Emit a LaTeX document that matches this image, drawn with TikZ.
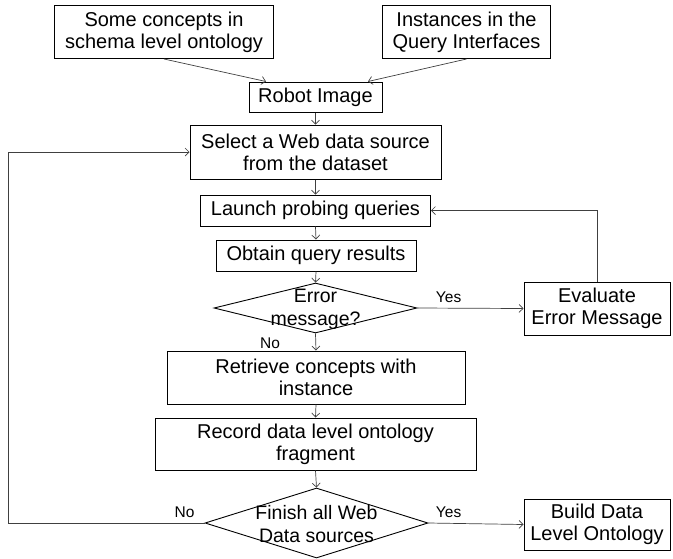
\documentclass[tikz,border=0pt]{standalone}
\usepackage{fontspec}
\setmainfont{Liberation Sans}
\usetikzlibrary{arrows.meta,shapes.geometric}
\begin{document}
\begin{tikzpicture}[x=1pt,y=-1pt,
  box/.style={draw=black,line width=1pt,inner sep=0pt,align=center,font=\fontsize{20}{22}\selectfont},
  dia/.style={draw=black,line width=0.9pt,shape=diamond,inner sep=0pt},
  dtext/.style={align=center,inner sep=0pt,font=\fontsize{19.5}{23}\selectfont},
  lab/.style={inner sep=0pt,font=\fontsize{15.5}{17}\selectfont},
  arr/.style={draw=black!75,line width=0.7pt,-{Straight Barb[length=4pt,width=8pt]}}]
\useasboundingbox (0,0) rectangle (673,558);
\node[box,minimum width=219pt,minimum height=53pt] (box1) at (164,32) {Some concepts in\\schema level ontology};
\node[box,minimum width=168pt,minimum height=53pt] (box2) at (466.5,32) {Instances in the\\Query Interfaces};
\node[box,minimum width=133pt,minimum height=30pt] (robot) at (315.5,97) {Robot Image};
\node[box,minimum width=251pt,minimum height=54pt] (select) at (315.5,152) {Select a Web data source\\from the dataset};
\node[box,minimum width=230pt,minimum height=31pt] (launch) at (315.5,210.5) {Launch probing queries};
\node[box,minimum width=200pt,minimum height=31pt] (obtain) at (316,255.5) {Obtain query results};
\node[dia,minimum width=203pt,minimum height=50pt] (d1) at (315.5,308) {};
\node[dtext] (d1t) at (315.5,309) {Error\\message?};
\node[box,minimum width=146pt,minimum height=53pt] (eval) at (597,308.5) {Evaluate\\Error Message};
\node[box,minimum width=298pt,minimum height=53pt] (retr) at (316,377.5) {Retrieve concepts with\\instance};
\node[box,minimum width=321pt,minimum height=52pt] (rec) at (315.5,444) {Record data level ontology\\fragment};
\node[dia,minimum width=223pt,minimum height=70pt] (d2) at (316.5,523) {};
\node[dtext] (d2t) at (316.5,524) {Finish all Web\\Data sources};
\node[box,minimum width=146pt,minimum height=51pt] (build) at (597,524.5) {Build Data\\Level Ontology};
\coordinate (loopc) at (8,152);
\draw[arr] (box1.south) -- ([xshift=-49.5pt]robot.north);
\draw[arr] (box2.south) -- ([xshift=52.5pt]robot.north);
\draw[arr] (robot.south) -- (select.north);
\draw[arr] (select.south) -- (launch.north);
\draw[arr] (launch.south) -- (obtain.north);
\draw[arr] (obtain.south) -- (d1.north);
\draw[arr] (d1.east) -- (eval.west);
\node[lab] (yes1) at (448.6,297) {Yes};
\draw[arr] (eval.north) |- (launch.east);
\draw[arr] (d1.south) -- (retr.north);
\node[lab] (no1) at (270,343) {No};
\draw[arr] (retr.south) -- (rec.north);
\draw[arr] (rec.south) -- (d2.north);
\draw[arr] (d2.east) -- (build.west);
\node[lab] (yes2) at (448.6,512) {Yes};
\draw[arr] (d2.west) -| (loopc) -- (select.west);
\node[lab] (no2) at (184.6,512) {No};
\end{tikzpicture}
\end{document}
